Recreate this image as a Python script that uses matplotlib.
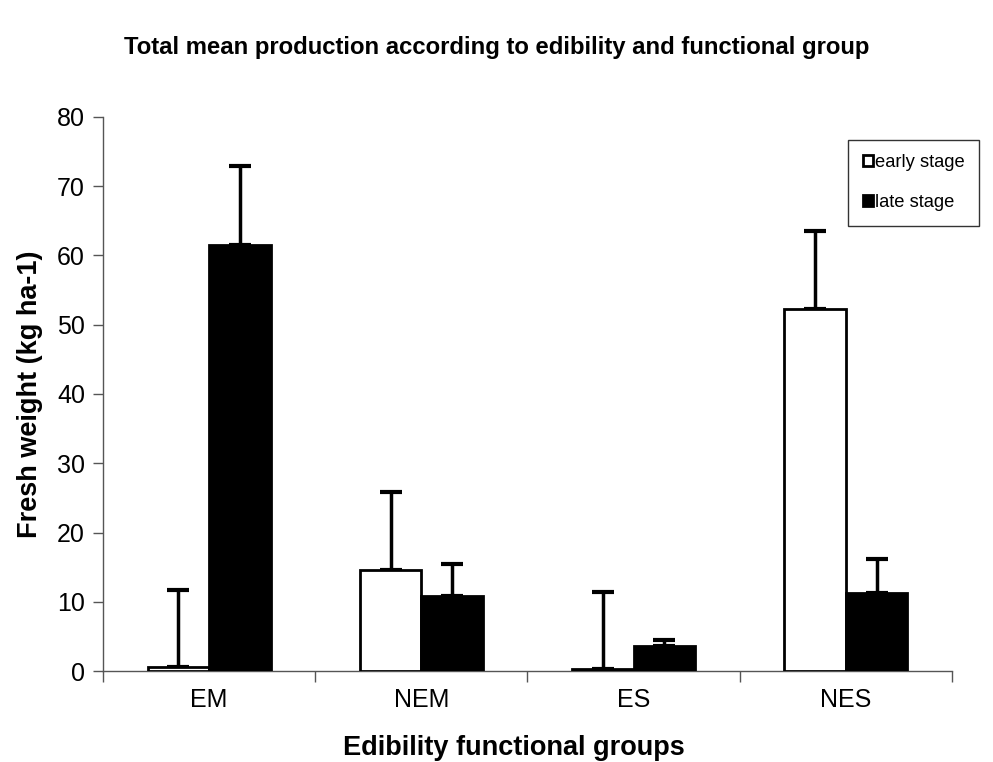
import matplotlib
matplotlib.use("Agg")
import matplotlib.pyplot as plt
import numpy as np

categories = ["EM", "NEM", "ES", "NES"]
early = [0.6, 14.6, 0.3, 52.3]
early_err = [11.1, 11.2, 11.1, 11.2]
late = [61.5, 10.8, 3.6, 11.3]
late_err = [11.4, 4.7, 0.9, 4.9]

plt.rcParams['font.family'] = ['Liberation Sans', 'DejaVu Sans']

fig = plt.figure(figsize=(9.93, 7.62), dpi=100)
ax = fig.add_axes([0.1037, 0.1194, 0.855, 0.7271])

x = np.arange(len(categories))
w = 0.29
ax.bar(x - w/2, early, w, color='white', edgecolor='black', linewidth=2,
       label='early stage', zorder=3)
ax.bar(x + w/2, late, w, color='black', edgecolor='black', linewidth=2,
       label='late stage', zorder=3)
ax.errorbar(x - w/2, early, yerr=[np.zeros(4), early_err], fmt='none',
            ecolor='black', elinewidth=2.5, capsize=8, capthick=3, zorder=2)
ax.errorbar(x + w/2, late, yerr=[np.zeros(4), late_err], fmt='none',
            ecolor='black', elinewidth=2.5, capsize=8, capthick=3, zorder=2)

ax.set_xlim(-0.5, 3.5)
ax.set_ylim(0, 80)
ax.set_yticks(range(0, 81, 10))
ax.set_xticks(x)
ax.set_xticklabels(categories)
ax.set_xticks(np.arange(-0.5, 3.6, 1), minor=True)
ax.tick_params(axis='x', which='major', length=0, labelsize=18, pad=12)
ax.tick_params(axis='x', which='minor', length=8, width=1, color='#555555', direction='out')
ax.tick_params(axis='y', labelsize=18, length=7, width=1, color='#555555', direction='out', pad=6)

for s in ['top', 'right']:
    ax.spines[s].set_visible(False)
for s in ['left', 'bottom']:
    ax.spines[s].set_color('#555555')
    ax.spines[s].set_linewidth(1)

ax.set_ylabel('Fresh weight (kg ha-1)', fontsize=19.5, fontweight='bold', labelpad=10)
fig.text(0.518, 0.018, 'Edibility functional groups', ha='center', va='center',
         fontsize=19.5, fontweight='bold')
fig.text(0.5, 0.938, 'Total mean production according to edibility and functional group',
         ha='center', va='center', fontsize=17.2, fontweight='bold')

leg = ax.legend(loc='upper left', bbox_to_anchor=(0.878, 0.959), frameon=True,
                fancybox=False, edgecolor='black', fontsize=13.2,
                handlelength=0.55, handleheight=0.55, handletextpad=0.1,
                labelspacing=1.25, borderpad=0.8, borderaxespad=0)
leg.get_frame().set_linewidth(1)

fig.savefig('out.png', dpi=100, facecolor='white')
